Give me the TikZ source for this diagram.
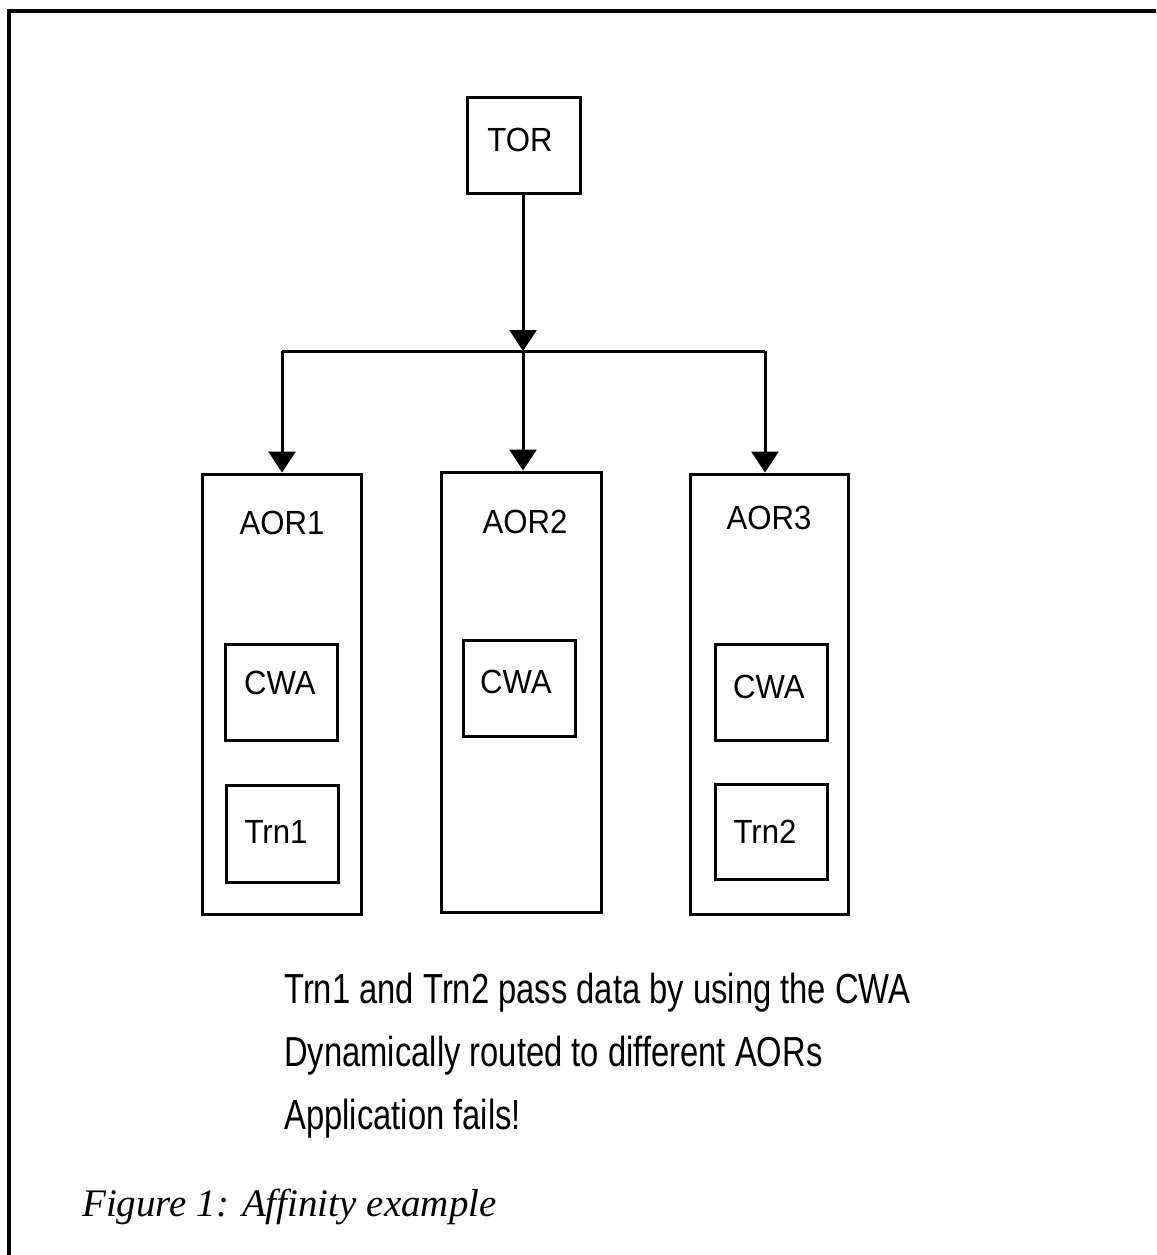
\documentclass[tikz,border=0pt]{standalone}
\usepackage{fontspec}
\usetikzlibrary{arrows.meta}
\newfontfamily\arialfont[FakeStretch=0.93]{Liberation Sans}
\newfontfamily\narrowfont[FakeStretch=0.78]{Liberation Sans}
\newfontfamily\capfont{Liberation Serif}
\begin{document}
\begin{tikzpicture}[x=1pt,y=-1pt,
  box/.style={draw,line width=3pt,inner sep=0pt},
  lbl/.style={inner sep=0pt,font=\arialfont\fontsize{33.5}{40}\selectfont},
  note/.style={inner sep=0pt,anchor=base west,font=\narrowfont\fontsize{42}{50}\selectfont},
  conn/.style={line width=3pt},
  arr/.style={line width=3pt,-{Triangle[width=27pt,length=21pt]}}]
\useasboundingbox (0,0) rectangle (1156,1255);
% frame
\draw[line width=3.5pt] (9,1255) -- (9,11) -- (1156,11);
% boxes
\node[box,minimum width=113pt,minimum height=96pt] (tor) at (523.5,145) {};
\node[lbl] (torl) at (520,140) {TOR};
\node[box,minimum width=159pt,minimum height=440pt] (aor1) at (281.5,694) {};
\node[box,minimum width=160pt,minimum height=440pt] (aor2) at (521,692) {};
\node[box,minimum width=158pt,minimum height=440pt] (aor3) at (769,694) {};
\node[lbl] (aor1l) at (282,523) {AOR1};
\node[lbl] (aor2l) at (525,522) {AOR2};
\node[lbl] (aor3l) at (769,518) {AOR3};
\node[box,minimum width=112pt,minimum height=96pt] (cwa1) at (281,692) {};
\node[box,minimum width=112pt,minimum height=97pt] (trn1) at (282,833.5) {};
\node[box,minimum width=112pt,minimum height=96pt] (cwa2) at (519,688) {};
\node[box,minimum width=112pt,minimum height=96pt] (cwa3) at (771,692) {};
\node[box,minimum width=112pt,minimum height=95pt] (trn2) at (771,831.5) {};
\node[lbl] (cwa1l) at (280,683) {CWA};
\node[lbl] (trn1l) at (276,832) {Trn1};
\node[lbl] (cwa2l) at (516,682) {CWA};
\node[lbl] (cwa3l) at (769,687) {CWA};
\node[lbl] (trn2l) at (765,832) {Trn2};
% connectors
\coordinate (hl) at (282,351);
\coordinate (hm) at (523,351);
\coordinate (hr) at (765,351);
\draw[arr] (tor.south -| hm) -- (hm);
\draw[conn] (hl) -- (hr);
\draw[arr] (hl) -- (hl |- aor1.north);
\draw[arr] (hm) -- (hm |- aor2.north);
\draw[arr] (hr) -- (hr |- aor3.north);
% notes
\node[note] (n1) at (284,1003) {Trn1 and Trn2 pass data by using the CWA};
\node[note] (n2) at (284,1066) {Dynamically routed to different AORs};
\node[note] (n3) at (284,1129) {Application fails!};
\node[inner sep=0pt,anchor=base west,font=\capfont\itshape\fontsize{39}{46}\selectfont] (cap) at (82,1216) {Figure 1: Affinity example};
\end{tikzpicture}
\end{document}
